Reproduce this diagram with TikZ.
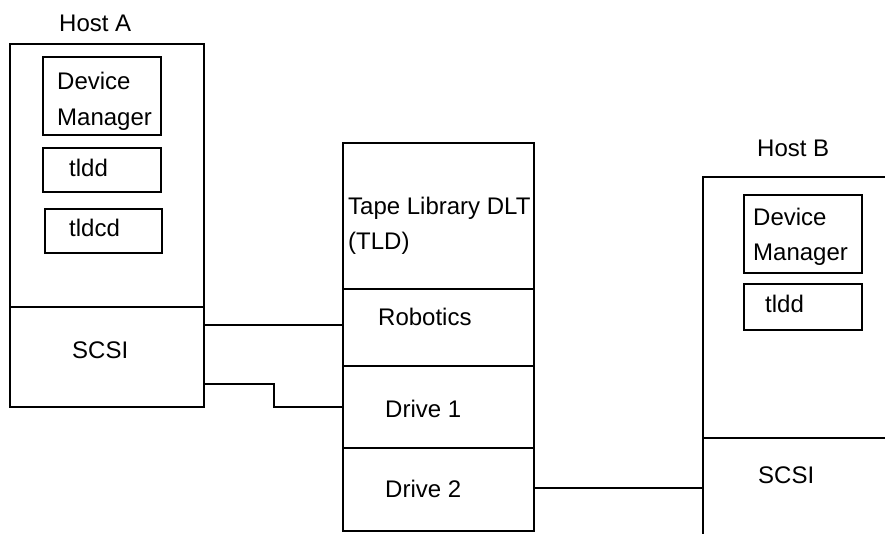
\documentclass[tikz,border=0pt]{standalone}
\usepackage{fontspec}
\setmainfont{Liberation Sans}
\begin{document}
\begin{tikzpicture}[x=1bp,y=-1bp,
  lw/.style={line width=1.9bp},
  box/.style={draw,lw,inner sep=0pt,outer sep=0pt,anchor=north west},
  lbl/.style={anchor=base west,inner sep=0pt,font=\fontsize{24bp}{28bp}\selectfont}]
\useasboundingbox (0,0) rectangle (885,534);
\clip (0,0) rectangle (885,534);
% Host A
\node[box,minimum width=194bp,minimum height=263bp] (hostA) at (10,44) {};
\node[box,minimum width=194bp,minimum height=100bp] (scsiA) at (10,307) {};
\node[box,minimum width=118bp,minimum height=78bp] (dmA) at (43,57) {};
\node[box,minimum width=118bp,minimum height=44bp] (tlddA) at (43,148) {};
\node[box,minimum width=117bp,minimum height=44bp] (tldcdA) at (45,209) {};
% Tape library
\node[box,minimum width=191bp,minimum height=146bp] (tld) at (343,143) {};
\node[box,minimum width=191bp,minimum height=77bp] (robotics) at (343,289) {};
\node[box,minimum width=191bp,minimum height=82bp] (drive1) at (343,366) {};
\node[box,minimum width=191bp,minimum height=83bp] (drive2) at (343,448) {};
% Host B
\node[box,minimum width=240bp,minimum height=261bp] (hostB) at (703,177) {};
\node[box,minimum width=240bp,minimum height=130bp] (scsiB) at (703,438) {};
\node[box,minimum width=118bp,minimum height=78bp] (dmB) at (744,195) {};
\node[box,minimum width=118bp,minimum height=46bp] (tlddB) at (744,284) {};
% Labels
\node[lbl] (lhostA) at (59,32) {Host A};
\node[lbl] (ldevA) at (57,90) {Device};
\node[lbl] (lmanA) at (57,126) {Manager};
\node[lbl] (ltlddA) at (69,177) {tldd};
\node[lbl] (ltldcdA) at (69,237) {tldcd};
\node[lbl] (lscsiA) at (72,358) {SCSI};
\node[lbl] (ltape) at (348,215) {Tape Library DLT};
\node[lbl] (ltld) at (348,250) {(TLD)};
\node[lbl] (lrob) at (378,326) {Robotics};
\node[lbl] (ld1) at (385,417) {Drive 1};
\node[lbl] (ld2) at (385,497) {Drive 2};
\node[lbl] (lhostB) at (757,157) {Host B};
\node[lbl] (ldevB) at (753,226) {Device};
\node[lbl] (lmanB) at (753,261) {Manager};
\node[lbl] (ltlddB) at (765,313) {tldd};
\node[lbl] (lscsiB) at (758,483) {SCSI};
% Connectors
\coordinate (c1) at (0,325);
\coordinate (c2) at (0,384);
\coordinate (c3) at (274,407);
\coordinate (c4) at (0,488);
\draw[lw] (scsiA.east |- c1) -- (robotics.west |- c1);
\draw[lw] (scsiA.east |- c2) -| (c3) -- (drive1.west |- c3);
\draw[lw] (drive2.east |- c4) -- (scsiB.west |- c4);
\end{tikzpicture}
\end{document}
